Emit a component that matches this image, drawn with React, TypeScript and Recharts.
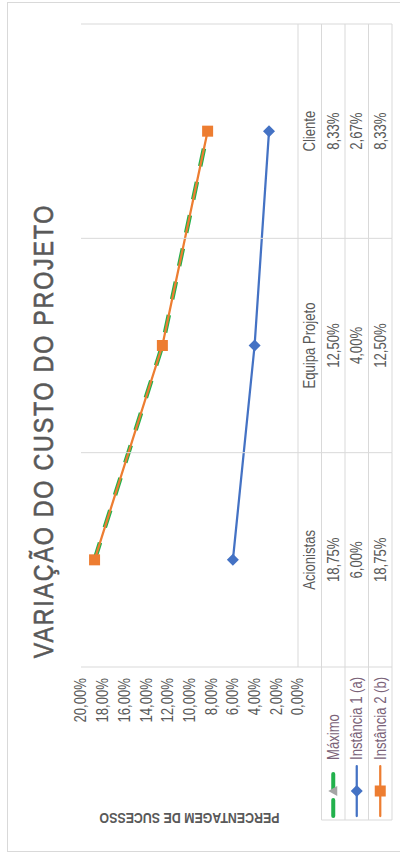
import React from 'react';
import { LineChart, Line, XAxis, YAxis } from 'recharts';

// ---------- data ----------
const categories = ['Acionistas', 'Equipa Projeto', 'Cliente'];
const maximo = [18.75, 12.5, 8.33];
const instancia1 = [6.0, 4.0, 2.67];
const instancia2 = [18.75, 12.5, 8.33];
const yTicks = [0, 2, 4, 6, 8, 10, 12, 14, 16, 18, 20];
const seriesNames = ['Máximo', 'Instância 1 (a)', 'Instância 2 (b)'];
const chartTitle = 'VARIAÇÃO DO CUSTO DO PROJETO';
const yTitle = 'PERCENTAGEM DE SUCESSO';

const data = categories.map((c, i) => ({
  cat: c,
  maximo: maximo[i],
  inst1: instancia1[i],
  inst2: instancia2[i],
}));

// ---------- layout (unrotated chart coordinates) ----------
const W = 850;
const H = 400;
const PLOT_LEFT = 185;
const PLOT_RIGHT = 828;
const PLOT_TOP = 74;
const PLOT_BOTTOM = 291;
const BAND = (PLOT_RIGHT - PLOT_LEFT) / categories.length;
const ROWS = [291, 314.5, 338, 361.5, 385];
const LEGEND_LEFT = 32;
const XAXIS_H = 100;

const FONT = "'Liberation Sans', Arial, sans-serif";
const NARROW = 0.82;
const TEXT = '#595959';
const LEGEND_TEXT = '#7a6278';
const GRID = '#D9D9D9';

const styles = [
  { key: 'maximo', color: '#22B14C', dash: '18 16', width: 4.5, marker: 'triangle', markerColor: '#A5A5A5' },
  { key: 'inst1', color: '#4472C4', dash: undefined, width: 2.25, marker: 'diamond', markerColor: '#4472C4' },
  { key: 'inst2', color: '#ED7D31', dash: undefined, width: 2.25, marker: 'square', markerColor: '#ED7D31' },
];

const fmt = (v: number) => v.toFixed(2).replace('.', ',') + '%';

function NText({ x, y, anchor = 'start', size = 16, fill = TEXT, weight = 'normal', rotate = 0, spacing = 0, sx = NARROW, strokeW = 0, children }: any) {
  return (
    <text
      transform={`translate(${x},${y}) rotate(${rotate}) scale(${sx},1)`}
      x={0}
      y={0}
      textAnchor={anchor}
      dominantBaseline="central"
      fontFamily={FONT}
      fontSize={size}
      fontWeight={weight}
      letterSpacing={spacing}
      fill={fill}
      stroke={strokeW ? fill : undefined}
      strokeWidth={strokeW || undefined}
    >
      {children}
    </text>
  );
}

function Marker({ type, cx, cy, color }: { type: string; cx: number; cy: number; color: string }) {
  if (cx == null || cy == null) return null;
  if (type === 'triangle') {
    return <polygon points={`${cx},${cy - 5} ${cx - 5},${cy + 4} ${cx + 5},${cy + 4}`} fill={color} />;
  }
  if (type === 'diamond') {
    return <polygon points={`${cx},${cy - 6} ${cx + 6},${cy} ${cx},${cy + 6} ${cx - 6},${cy}`} fill={color} />;
  }
  return <rect x={cx - 5.5} y={cy - 5.5} width={11} height={11} fill={color} />;
}

function LegendColumn({ right }: { right: number }) {
  return (
    <g>
      <line x1={LEGEND_LEFT} x2={LEGEND_LEFT} y1={ROWS[1]} y2={ROWS[4]} stroke={GRID} strokeWidth={1} />
      {ROWS.slice(1).map((r, k) => (
        <line key={'lr' + k} x1={LEGEND_LEFT} x2={right} y1={r} y2={r} stroke={GRID} strokeWidth={1} />
      ))}
      {styles.map((s, k) => {
        const cy = (ROWS[k + 1] + ROWS[k + 2]) / 2;
        return (
          <g key={'lk' + k}>
            <line x1={36} x2={86} y1={cy} y2={cy} stroke={s.color} strokeWidth={s.dash ? 4 : s.width}
              strokeDasharray={s.dash ? '16 10' : undefined} strokeLinecap="round" />
            <Marker type={s.marker} cx={61} cy={cy} color={s.markerColor} />
            <NText x={92} y={cy} size={16} fill={LEGEND_TEXT}>{seriesNames[k]}</NText>
          </g>
        );
      })}
    </g>
  );
}

function TableTick(props: any) {
  const { x, payload } = props;
  const i = categories.indexOf(payload.value);
  const left = x - BAND / 2;
  const right = x + BAND / 2;
  const values = [maximo[i], instancia1[i], instancia2[i]];
  return (
    <g>
      <line x1={left} x2={left} y1={PLOT_TOP} y2={ROWS[4]} stroke={GRID} strokeWidth={1} />
      {i === categories.length - 1 && (
        <line x1={right} x2={right} y1={PLOT_TOP} y2={ROWS[4]} stroke={GRID} strokeWidth={1} />
      )}
      {ROWS.slice(1).map((r, k) => (
        <line key={'r' + k} x1={left} x2={right} y1={r} y2={r} stroke={GRID} strokeWidth={1} />
      ))}
      <NText x={x} y={(ROWS[0] + ROWS[1]) / 2} anchor="middle" size={16}>{payload.value}</NText>
      {values.map((v, k) => (
        <NText key={'v' + k} x={x} y={(ROWS[k + 1] + ROWS[k + 2]) / 2} anchor="middle" size={16}>
          {fmt(v)}
        </NText>
      ))}
      {i === 0 && <LegendColumn right={left} />}
    </g>
  );
}

function YTick(props: any) {
  const { x, y, payload } = props;
  return <NText x={x} y={y} anchor="end" size={16}>{fmt(payload.value)}</NText>;
}

function YTitle(props: any) {
  const vb = props.viewBox || { x: 0, y: PLOT_TOP, width: PLOT_LEFT, height: PLOT_BOTTOM - PLOT_TOP };
  const cx = vb.x + 33;
  const cy = vb.y + vb.height / 2;
  return (
    <NText x={cx} y={cy} rotate={-90} anchor="middle" size={15.5} weight="bold" sx={0.8}>{yTitle}</NText>
  );
}

export default function App() {
  return (
    <div style={{ position: 'absolute', left: 0, top: 0, width: 400, height: 856, overflow: 'hidden', background: '#fff' }}>
      <div
        style={{
          position: 'absolute',
          left: 7,
          top: 2 + W,
          width: W,
          height: H,
          transformOrigin: '0 0',
          transform: 'rotate(-90deg)',
          border: `1px solid ${GRID}`,
          boxSizing: 'border-box',
          background: '#fff',
        }}
      >
        <svg width={W} height={H} style={{ position: 'absolute', left: -1, top: -1 }}>
          <NText x={421} y={36} anchor="middle" size={27} spacing={2.1} sx={0.86} strokeW={0.6}>{chartTitle}</NText>
        </svg>
        <div style={{ position: 'absolute', left: -1, top: -1 }}>
          <LineChart
            width={W}
            height={H}
            data={data}
            margin={{ top: PLOT_TOP, right: W - PLOT_RIGHT, bottom: H - PLOT_BOTTOM - XAXIS_H, left: 0 }}
          >
            <XAxis
              dataKey="cat"
              height={XAXIS_H}
              padding={{ left: BAND / 2, right: BAND / 2 }}
              axisLine={{ stroke: GRID, strokeWidth: 1 }}
              tickLine={false}
              interval={0}
              tick={<TableTick />}
            />
            <YAxis
              width={PLOT_LEFT}
              domain={[0, 20]}
              ticks={yTicks}
              interval={0}
              axisLine={false}
              tickLine={false}
              tickMargin={5}
              tick={<YTick />}
              label={<YTitle />}
            />
            {styles.map((s) => (
              <Line
                key={s.key}
                dataKey={s.key}
                type="linear"
                stroke={s.color}
                strokeWidth={s.width}
                strokeDasharray={s.dash}
                isAnimationActive={false}
                dot={(p: any) => <Marker key={s.key + p.index} type={s.marker} cx={p.cx} cy={p.cy} color={s.markerColor} />}
                activeDot={false}
              />
            ))}
          </LineChart>
        </div>
      </div>
    </div>
  );
}
